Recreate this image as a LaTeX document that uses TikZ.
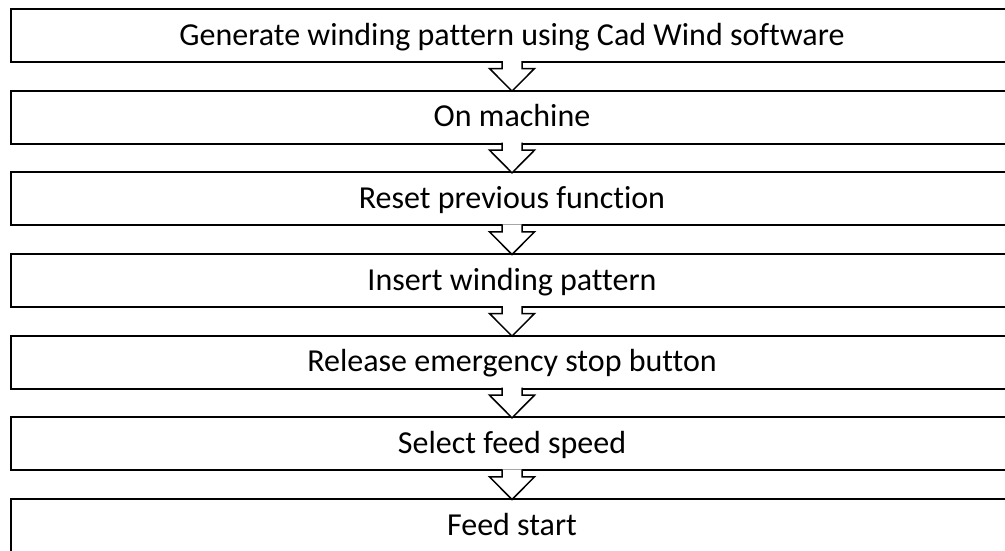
\documentclass[tikz,border=0pt]{standalone}
\usepackage{fontspec}
\setmainfont{Carlito}[Ligatures=NoCommon]
\usetikzlibrary{positioning,calc}
\tikzset{
  stage/.style = {rectangle, draw, line width=2pt, minimum width=1002pt, minimum height=53pt, inner sep=0pt,
    text height=24pt, text depth=5pt, text centered, font=\fontsize{32}{38}\selectfont},
  flow/.style = {draw, fill=white, line width=1.5pt, miter limit=20},
}
% hollow block arrow from the bottom of one step to the top of the next
\newcommand{\flowarrow}[2]{%
  \draw[flow] ($(#1.south)+(-10,2)$) -- ($(#1.south)+(-10,-5.5)$) -- ($(#1.south)+(-22.5,-5.5)$)
    -- ($(#2.north)+(0,-1.5)$) -- ($(#1.south)+(22.5,-5.5)$) -- ($(#1.south)+(10,-5.5)$) -- ($(#1.south)+(10,2)$);
}

\begin{document}
\begin{tikzpicture}[x=1pt, y=1pt]
  \clip (0,0) rectangle (1005,-550);

  % steps
  \node[stage] (gen) at (512,-35.5) {Generate winding pattern using Cad Wind software};
  \node[stage, below=26.67pt of gen]     (on)      {On machine};
  \node[stage, below=26.67pt of on]      (reset)   {Reset previous function};
  \node[stage, below=26.67pt of reset]   (insert)  {Insert winding pattern};
  \node[stage, below=26.67pt of insert]  (release) {Release emergency stop button};
  \node[stage, below=26.67pt of release] (speed)   {Select feed speed};
  \node[stage, below=26.67pt of speed]   (start)   {Feed start};

  % arrows between steps
  \flowarrow{gen}{on}
  \flowarrow{on}{reset}
  \flowarrow{reset}{insert}
  \flowarrow{insert}{release}
  \flowarrow{release}{speed}
  \flowarrow{speed}{start}
\end{tikzpicture}
\end{document}
